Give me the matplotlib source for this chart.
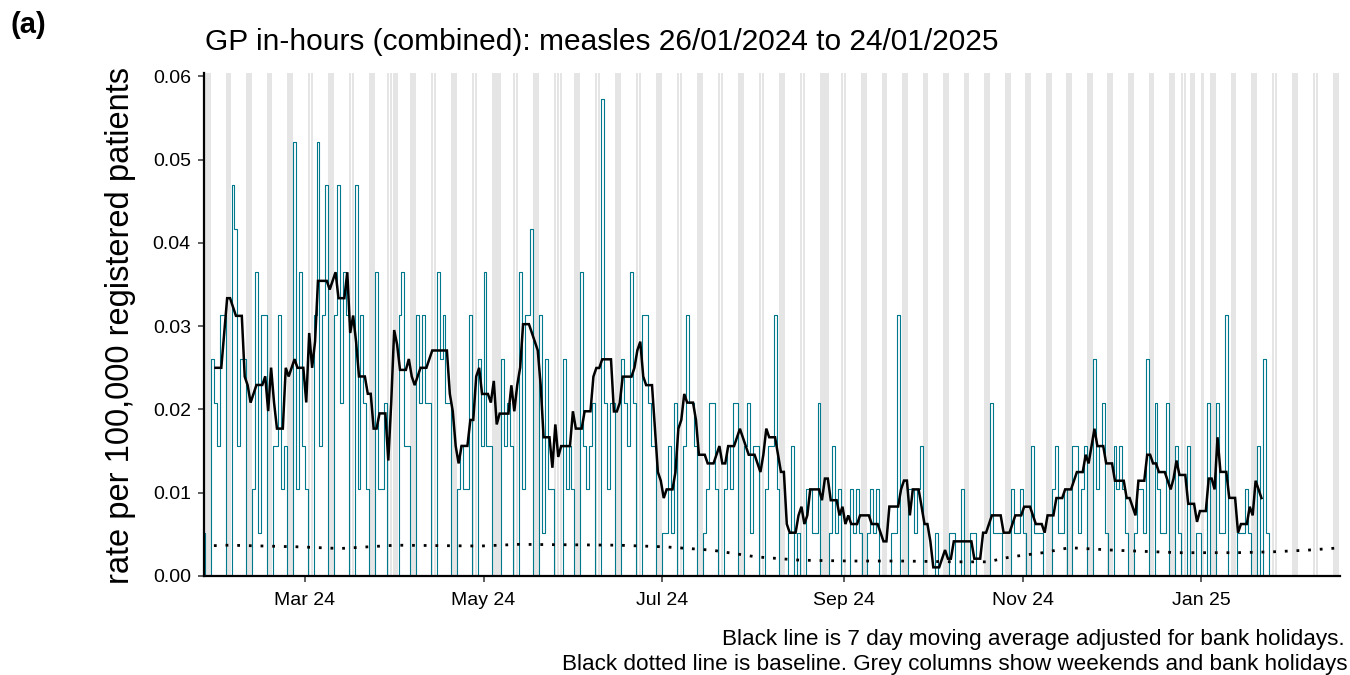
import numpy as np
import matplotlib
matplotlib.use("Agg")
import matplotlib.pyplot as plt
import matplotlib.dates as mdates
import datetime as dt

plt.rcParams['font.family'] = ['Liberation Sans', 'DejaVu Sans']

# ---------------- data ----------------
start_date = "2024-01-26"          # Friday
first_day_rate = 0.0052            # rate on Fri 26/01/2024

# Weekday (Mon..Fri) daily rates per 100,000, weeks starting Mon 29/01/2024
# (weekend days are zero; bank holidays entered as 0)
weekday_rates = [
    [0.0260, 0.0208, 0.0156, 0.0313, 0.0313],   # 29 Jan
    [0.0469, 0.0417, 0.0156, 0.0260, 0.0260],   # 05 Feb
    [0.0104, 0.0365, 0.0052, 0.0313, 0.0313],   # 12 Feb
    [0.0156, 0.0156, 0.0313, 0.0104, 0.0156],   # 19 Feb
    [0.0521, 0.0104, 0.0365, 0.0156, 0.0104],   # 26 Feb
    [0.0313, 0.0521, 0.0156, 0.0313, 0.0469],   # 04 Mar
    [0.0313, 0.0469, 0.0208, 0.0365, 0.0313],   # 11 Mar
    [0.0469, 0.0104, 0.0313, 0.0208, 0.0104],   # 18 Mar
    [0.0365, 0.0104, 0.0104, 0.0208, 0.0000],   # 25 Mar
    [0.0000, 0.0313, 0.0365, 0.0156, 0.0156],   # 01 Apr
    [0.0313, 0.0208, 0.0313, 0.0208, 0.0208],   # 08 Apr
    [0.0365, 0.0260, 0.0313, 0.0208, 0.0208],   # 15 Apr
    [0.0104, 0.0156, 0.0104, 0.0104, 0.0313],   # 22 Apr
    [0.0260, 0.0156, 0.0365, 0.0156, 0.0156],   # 29 Apr
    [0.0000, 0.0260, 0.0156, 0.0208, 0.0156],   # 06 May
    [0.0365, 0.0104, 0.0313, 0.0313, 0.0417],   # 13 May
    [0.0313, 0.0052, 0.0260, 0.0104, 0.0104],   # 20 May
    [0.0000, 0.0260, 0.0104, 0.0156, 0.0104],   # 27 May
    [0.0365, 0.0156, 0.0104, 0.0156, 0.0208],   # 03 Jun
    [0.0573, 0.0208, 0.0104, 0.0208, 0.0208],   # 10 Jun
    [0.0260, 0.0208, 0.0156, 0.0365, 0.0208],   # 17 Jun
    [0.0313, 0.0313, 0.0208, 0.0156, 0.0156],   # 24 Jun
    [0.0052, 0.0052, 0.0156, 0.0052, 0.0208],   # 01 Jul
    [0.0156, 0.0313, 0.0208, 0.0208, 0.0156],   # 08 Jul
    [0.0052, 0.0104, 0.0208, 0.0208, 0.0104],   # 15 Jul
    [0.0104, 0.0156, 0.0104, 0.0208, 0.0208],   # 22 Jul
    [0.0156, 0.0208, 0.0052, 0.0156, 0.0156],   # 29 Jul
    [0.0104, 0.0156, 0.0156, 0.0313, 0.0104],   # 05 Aug
    [0.0000, 0.0052, 0.0156, 0.0000, 0.0052],   # 12 Aug
    [0.0104, 0.0104, 0.0052, 0.0052, 0.0208],   # 19 Aug
    [0.0000, 0.0052, 0.0156, 0.0052, 0.0104],   # 26 Aug
    [0.0000, 0.0104, 0.0052, 0.0104, 0.0052],   # 02 Sep
    [0.0052, 0.0104, 0.0052, 0.0104, 0.0000],   # 09 Sep
    [0.0000, 0.0052, 0.0052, 0.0313, 0.0000],   # 16 Sep
    [0.0104, 0.0104, 0.0052, 0.0104, 0.0156],   # 23 Sep
    [0.0000, 0.0000, 0.0052, 0.0000, 0.0000],   # 30 Sep
    [0.0052, 0.0052, 0.0000, 0.0000, 0.0104],   # 07 Oct
    [0.0052, 0.0052, 0.0000, 0.0000, 0.0000],   # 14 Oct
    [0.0208, 0.0052, 0.0052, 0.0052, 0.0000],   # 21 Oct
    [0.0104, 0.0052, 0.0052, 0.0104, 0.0052],   # 28 Oct
    [0.0156, 0.0052, 0.0052, 0.0052, 0.0000],   # 04 Nov
    [0.0104, 0.0156, 0.0052, 0.0052, 0.0104],   # 11 Nov
    [0.0156, 0.0156, 0.0052, 0.0104, 0.0156],   # 18 Nov
    [0.0260, 0.0104, 0.0156, 0.0208, 0.0052],   # 25 Nov
    [0.0156, 0.0104, 0.0156, 0.0104, 0.0052],   # 02 Dec
    [0.0052, 0.0104, 0.0104, 0.0052, 0.0260],   # 09 Dec
    [0.0208, 0.0104, 0.0052, 0.0052, 0.0208],   # 16 Dec
    [0.0156, 0.0052, 0.0000, 0.0000, 0.0156],   # 23 Dec
    [0.0052, 0.0052, 0.0000, 0.0000, 0.0208],   # 30 Dec
    [0.0208, 0.0052, 0.0052, 0.0313, 0.0000],   # 06 Jan
    [0.0052, 0.0052, 0.0052, 0.0104, 0.0052],   # 13 Jan
    [0.0156, 0.0000, 0.0260, 0.0052, 0.0000],   # 20 Jan
]

bank_holidays = ["2024-03-29", "2024-04-01", "2024-05-06", "2024-05-27",
                 "2024-08-26", "2024-12-25", "2024-12-26", "2025-01-01"]

baseline_dates = ["2024-01-26", "2024-02-04", "2024-02-28", "2024-03-13",
                  "2024-04-01", "2024-04-30", "2024-05-13", "2024-06-16",
                  "2024-07-02", "2024-07-18", "2024-08-02", "2024-08-17",
                  "2024-09-03", "2024-09-20", "2024-10-10", "2024-10-20",
                  "2024-10-28", "2024-11-08", "2024-11-17", "2024-12-02",
                  "2024-12-24", "2025-01-13", "2025-01-25", "2025-02-06",
                  "2025-02-18"]
baseline_rates = [0.0036, 0.0037, 0.0035, 0.0033, 0.0037, 0.0036, 0.0038,
                  0.0037, 0.0035, 0.0031, 0.0023, 0.0019, 0.0018, 0.0018,
                  0.0017, 0.0017, 0.0023, 0.0028, 0.0034, 0.0031, 0.0028,
                  0.0028, 0.0029, 0.0031, 0.0034]

x_tick_dates = ["2024-03-01", "2024-05-01", "2024-07-01", "2024-09-01",
                "2024-11-01", "2025-01-01"]
x_tick_labels = ["Mar 24", "May 24", "Jul 24", "Sep 24", "Nov 24", "Jan 25"]
y_ticks = [0.00, 0.01, 0.02, 0.03, 0.04, 0.05, 0.06]
y_tick_labels = ["0.00", "0.01", "0.02", "0.03", "0.04", "0.05", "0.06"]

title = "GP in-hours (combined): measles 26/01/2024 to 24/01/2025"
ylabel = "rate per 100,000 registered patients"
caption1 = "Black line is 7 day moving average adjusted for bank holidays."
caption2 = "Black dotted line is baseline. Grey columns show weekends and bank holidays"

TEAL = "#00798C"
GREY = "#E5E5E5"

# ---------------- build daily series ----------------
d0 = dt.date.fromisoformat(start_date)
daily = [first_day_rate]
for row in weekday_rates:
    daily += [0.0, 0.0] + list(row)
daily = np.array(daily)
dates = [d0 + dt.timedelta(days=i) for i in range(len(daily))]
xd = mdates.date2num(dates)

hol = set(dt.date.fromisoformat(h) for h in bank_holidays)
working = np.array([(d.weekday() < 5) and (d not in hol) for d in dates])

# centred 7-day moving average over working days
ma_x, ma_y = [], []
for i in range(4, len(daily) - 3):
    w = slice(i - 3, i + 4)
    n = working[w].sum()
    if n > 0:
        ma_x.append(xd[i] + 0.5)
        ma_y.append(daily[w][working[w]].sum() / n)

# ---------------- figure ----------------
W, H = 1350, 675
fig = plt.figure(figsize=(W / 100, H / 100), dpi=100)
ax = fig.add_axes([204 / W, 1 - 576 / H, (1340 - 204) / W, (576 - 73) / H])

x_left = xd[0] + 0.6
x_right = mdates.date2num(dt.date(2025, 2, 16)) + 1.3

# grey columns: weekends and bank holidays
cur = d0
end_cols = dt.date(2025, 2, 17)
while cur <= end_cols:
    if cur.weekday() >= 5 or cur in hol:
        xc = mdates.date2num(cur)
        ax.axvspan(xc - 0.05, xc + 0.85, color=GREY, lw=0, zorder=0)
    cur += dt.timedelta(days=1)

ax.step(xd, daily, where="post", color=TEAL, lw=0.8, zorder=2)
ax.plot(ma_x, ma_y, color="black", lw=1.8, zorder=3, solid_joinstyle="miter")
bx = mdates.date2num([dt.date.fromisoformat(s) for s in baseline_dates])
ax.plot(bx, baseline_rates, color="black", lw=2.0, ls=(0, (1, 3.2)),
        dash_capstyle="butt", zorder=3)

ax.set_xlim(x_left, x_right)
ax.set_ylim(0, 0.0604)
ax.set_yticks(y_ticks)
ax.set_yticklabels(y_tick_labels)
ax.set_xticks(mdates.date2num([dt.date.fromisoformat(s) for s in x_tick_dates]))
ax.set_xticklabels(x_tick_labels)

for s in ["top", "right"]:
    ax.spines[s].set_visible(False)
for s in ["left", "bottom"]:
    ax.spines[s].set_linewidth(1.6)
    ax.spines[s].set_color("black")
ax.tick_params(axis="both", direction="out", length=4.5, width=1.1,
               color="#333333", labelsize=14, labelcolor="black")
ax.tick_params(axis="x", pad=7)
ax.tick_params(axis="y", pad=5)

fig.text(121 / W, 1 - 326 / H, ylabel, rotation=90, ha="center", va="center",
         fontsize=23.5)
fig.text(205 / W, 1 - 50 / H, title, ha="left", va="baseline", fontsize=21.5)
fig.text(11 / W, 1 - 33 / H, "(a)", ha="left", va="baseline", fontsize=21,
         fontweight="bold")
fig.text(1345 / W, 1 - 645 / H, caption1, ha="right", va="baseline", fontsize=16.2)
fig.text(1348 / W, 1 - 670 / H, caption2, ha="right", va="baseline", fontsize=16.2)

fig.savefig("out.png", dpi=100)
